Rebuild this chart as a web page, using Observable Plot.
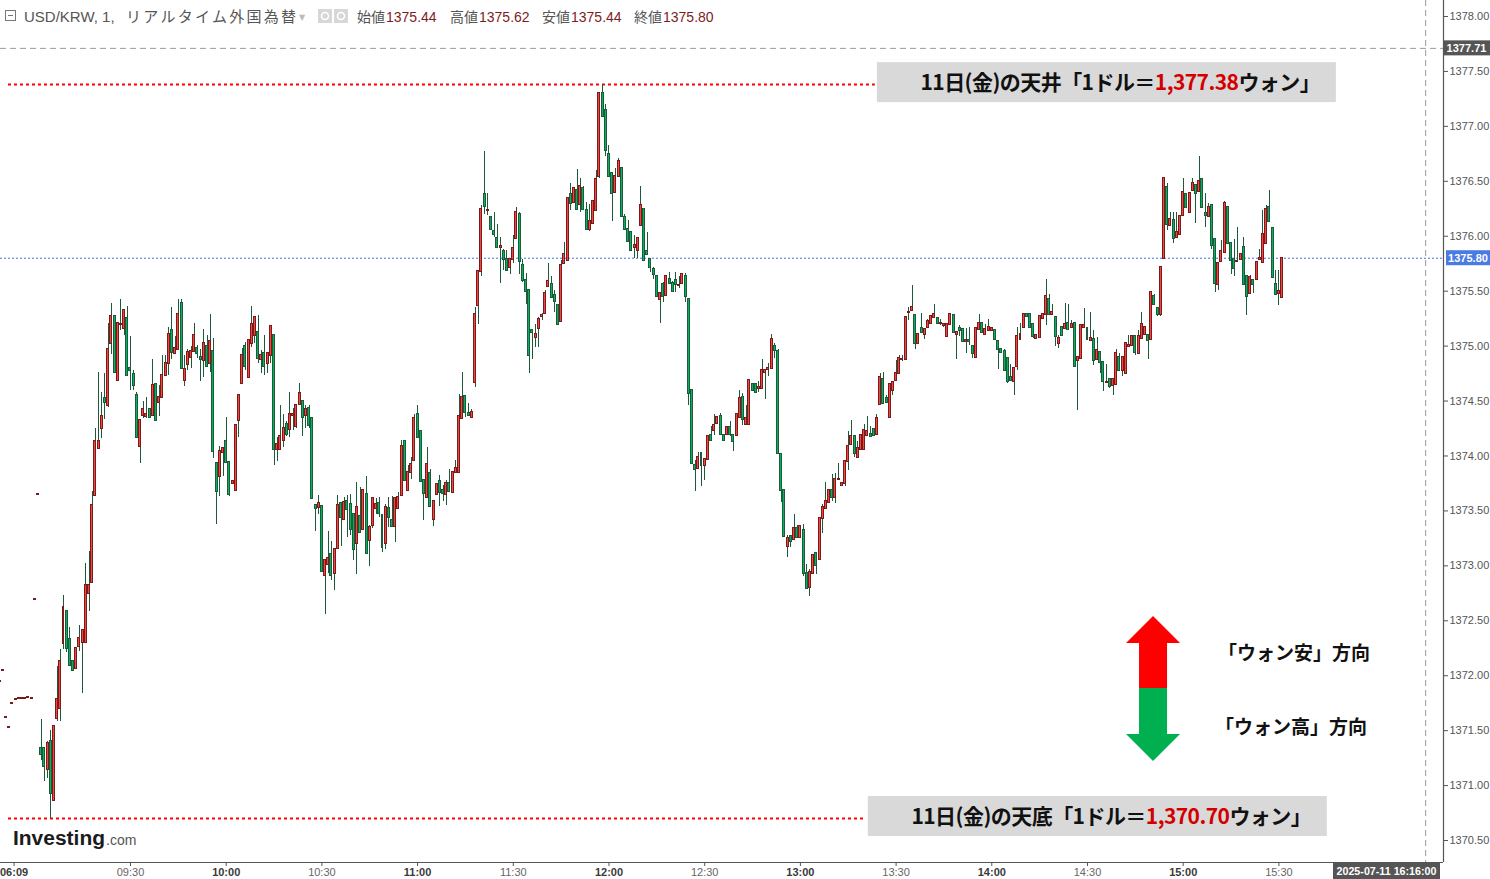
<!DOCTYPE html>
<html><head><meta charset="utf-8">
<script src="https://cdn.jsdelivr.net/npm/d3@7"></script>
<script src="https://cdn.jsdelivr.net/npm/@observablehq/plot@0.6"></script>
<style>
html,body{margin:0;padding:0;background:#fff;}
#chart{position:relative;width:1490px;height:879px;overflow:hidden;}
</style></head><body><div id="chart"></div>
<script>
// ---------- data ----------
const day = "2025-07-11";
const firstBar = "09:02"; // one bar per minute from here
const open = [
1371.34,1371.34,1371.15,1371.40,1370.86,1371.61,1371.70,1372.29,1372.58,1372.33,
1372.13,1372.07,1372.27,1372.30,1372.30,1372.75,1372.85,1373.64,1374.07,1374.25,
1374.52,1374.46,1375.02,1375.27,1374.69,1375.20,1375.16,1375.25,1374.80,1374.74,
1374.55,1374.09,1374.37,1374.36,1374.42,1374.37,1374.65,1374.49,1374.53,1374.73,
1374.84,1375.14,1374.93,1374.97,1375.39,1374.69,1374.83,1374.90,1374.95,1374.98,
1374.90,1374.87,1375.00,1374.84,1374.95,1373.93,1373.81,1374.03,1374.13,1373.94,
1373.75,1373.69,1374.32,1374.66,1375.00,1374.71,1375.02,1375.10,1375.12,1374.88,
1374.93,1374.84,1374.91,1375.10,1374.06,1374.06,1374.14,1374.29,1374.24,1374.37,
1374.27,1374.47,1374.50,1374.37,1374.43,1374.34,1373.55,1373.53,1373.54,1372.91,
1373.01,1373.10,1372.93,1373.16,1373.57,1373.42,1373.59,1373.56,1373.47,1373.20,
1373.45,1373.33,1373.65,1373.23,1373.37,1373.52,1373.57,1373.46,1373.20,1373.52,
1373.41,1373.36,1373.52,1373.64,1374.13,1373.69,1373.85,1373.96,1374.38,1374.22,
1373.78,1373.62,1373.84,1373.42,1373.65,1373.77,1373.69,1373.65,1373.75,1373.67,
1373.85,1373.85,1374.34,1374.54,1374.39,1374.35,1374.67,1375.37,1375.68,1376.38,
1376.23,1376.17,1376.04,1375.98,1375.90,1375.86,1375.79,1375.72,1375.79,1375.98,
1376.20,1375.73,1375.60,1375.51,1375.14,1375.08,1375.16,1375.27,1375.30,1375.54,
1375.56,1375.46,1375.37,1375.22,1375.75,1375.78,1376.38,1376.31,1376.42,1376.29,
1376.43,1376.23,1376.06,1376.12,1376.23,1376.54,1377.30,1377.14,1376.74,1376.57,
1376.40,1376.54,1376.62,1376.17,1376.06,1376.03,1375.90,1375.87,1376.10,1376.24,
1375.86,1375.79,1375.70,1375.63,1375.42,1375.56,1375.46,1375.61,1375.57,1375.60,
1375.55,1375.57,1375.63,1375.42,1374.60,1373.91,1373.89,1374.02,1373.91,1373.97,
1374.19,1374.23,1374.30,1374.36,1374.19,1374.20,1374.26,1374.19,1374.19,1374.35,
1374.53,1374.29,1374.29,1374.65,1374.65,1374.61,1374.61,1374.76,1374.79,1374.80,
1375.00,1374.95,1374.01,1373.69,1373.18,1373.27,1373.24,1373.34,1373.26,1373.32,
1372.93,1372.80,1372.93,1373.11,1373.06,1373.43,1373.52,1373.58,1373.69,1373.62,
1373.79,1373.73,1373.75,1373.95,1374.10,1374.18,1373.99,1374.06,1374.06,1374.19,
1374.20,1374.24,1374.20,1374.47,1374.70,1374.52,1374.35,1374.60,1374.69,1374.75,
1374.88,1374.88,1375.31,1375.32,1375.28,1375.02,1375.16,1375.11,1375.17,1375.21,
1375.26,1375.25,1375.21,1375.19,1375.09,1375.20,1375.28,1375.11,1375.16,1375.15,
1375.04,1375.05,1375.00,1374.90,1375.15,1375.21,1375.11,1375.14,1375.14,1375.14,
1375.04,1374.97,1374.95,1374.89,1374.71,1374.68,1374.81,1375.06,1375.17,1375.29,
1375.29,1375.20,1375.07,1375.08,1375.25,1375.29,1375.42,1375.29,1375.26,1375.02,
1375.17,1375.16,1375.21,1375.17,1375.21,1374.87,1374.89,1375.17,1375.16,1375.05,
1375.06,1374.88,1374.94,1374.85,1374.67,1374.70,1374.64,1374.65,1374.90,1374.78,
1374.75,1375.00,1375.01,1375.09,1374.93,1375.07,1375.11,1375.10,1375.06,1375.45,
1375.34,1375.29,1375.80,1376.44,1376.10,1376.14,1375.99,1376.02,1376.19,1376.38,
1376.22,1376.42,1376.46,1376.41,1376.52,1376.21,1376.18,1376.28,1375.97,1375.56,
1375.77,1375.85,1376.26,1375.93,1375.79,1375.77,1375.79,1375.90,1375.63,1375.48,
1375.60,1375.61,1375.79,1375.76,1375.93,1376.26,1376.07,1375.56,1375.48,1375.44];
const high = [
1371.60,1371.34,1371.40,1371.50,1371.54,1372.08,1372.24,1372.73,1372.58,1372.44,
1372.13,1372.25,1372.46,1372.41,1373.02,1373.13,1373.68,1374.25,1374.76,1374.58,
1374.75,1375.21,1375.39,1375.27,1375.21,1375.42,1375.33,1375.36,1375.09,1374.78,
1374.58,1374.32,1374.50,1374.53,1374.43,1374.88,1374.65,1374.64,1374.91,1374.91,
1375.17,1375.35,1375.09,1375.42,1375.42,1374.91,1374.97,1375.00,1375.21,1375.01,
1374.97,1375.15,1375.10,1375.29,1375.07,1373.93,1374.09,1374.08,1374.35,1373.94,
1373.77,1374.28,1374.55,1374.98,1375.03,1375.05,1375.36,1375.26,1375.28,1374.96,
1375.10,1374.93,1375.18,1375.10,1374.17,1374.46,1374.38,1374.31,1374.58,1374.43,
1374.47,1374.66,1374.50,1374.46,1374.46,1374.34,1373.55,1373.64,1373.54,1373.05,
1373.31,1373.22,1373.15,1373.64,1373.57,1373.62,1373.64,1373.65,1373.47,1373.76,
1373.71,1373.69,1373.81,1373.37,1373.62,1373.61,1373.62,1373.46,1373.56,1373.62,
1373.63,1373.62,1373.67,1374.14,1374.14,1373.91,1373.99,1374.38,1374.46,1374.22,
1373.78,1374.08,1373.88,1373.59,1373.74,1373.82,1373.73,1373.78,1373.88,1373.85,
1373.96,1374.56,1374.76,1374.54,1374.48,1374.42,1375.35,1375.68,1376.28,1376.77,
1376.39,1376.17,1376.22,1376.11,1375.99,1375.88,1375.87,1375.79,1376.01,1376.26,
1376.22,1375.79,1375.66,1375.51,1375.14,1375.20,1375.26,1375.30,1375.51,1375.75,
1375.63,1375.51,1375.37,1375.78,1375.94,1376.35,1376.48,1376.43,1376.61,1376.53,
1376.45,1376.31,1376.29,1376.32,1376.60,1377.30,1377.38,1377.20,1376.83,1376.57,
1376.62,1376.71,1376.62,1376.20,1376.14,1376.03,1376.01,1375.98,1376.45,1376.24,
1376.03,1375.79,1375.72,1375.63,1375.48,1375.58,1375.64,1375.67,1375.59,1375.67,
1375.63,1375.65,1375.66,1375.42,1374.60,1373.96,1374.03,1374.02,1373.97,1374.18,
1374.27,1374.38,1374.35,1374.39,1374.19,1374.26,1374.31,1374.19,1374.38,1374.60,
1374.57,1374.46,1374.69,1374.65,1374.65,1374.68,1374.88,1374.78,1374.84,1375.11,
1375.02,1374.97,1374.01,1373.69,1373.28,1373.28,1373.47,1373.37,1373.37,1373.38,
1373.01,1372.97,1373.10,1373.11,1373.43,1373.56,1373.76,1373.69,1373.83,1373.84,
1373.93,1373.75,1373.95,1374.22,1374.32,1374.18,1374.13,1374.19,1374.29,1374.36,
1374.27,1374.24,1374.38,1374.75,1374.76,1374.55,1374.65,1374.67,1374.87,1374.91,
1374.91,1375.26,1375.35,1375.55,1375.28,1375.11,1375.30,1375.15,1375.24,1375.27,
1375.38,1375.26,1375.24,1375.20,1375.20,1375.29,1375.29,1375.12,1375.19,1375.16,
1375.16,1375.17,1375.00,1375.16,1375.29,1375.21,1375.20,1375.24,1375.16,1375.14,
1375.04,1374.97,1374.97,1374.89,1374.83,1374.80,1375.17,1375.21,1375.30,1375.30,
1375.29,1375.20,1375.10,1375.27,1375.29,1375.61,1375.47,1375.38,1375.26,1375.10,
1375.17,1375.39,1375.38,1375.23,1375.21,1374.90,1375.20,1375.34,1375.16,1375.31,
1375.14,1375.08,1374.94,1374.85,1374.83,1374.70,1374.70,1374.97,1374.93,1374.90,
1375.02,1375.10,1375.09,1375.09,1375.14,1375.31,1375.17,1375.10,1375.49,1375.47,
1375.34,1375.72,1376.53,1376.48,1376.22,1376.22,1376.22,1376.18,1376.53,1376.38,
1376.39,1376.53,1376.46,1376.73,1376.52,1376.39,1376.30,1376.29,1375.97,1375.75,
1375.96,1376.32,1376.26,1375.93,1375.97,1376.08,1375.84,1375.99,1375.63,1375.64,
1375.60,1375.76,1375.88,1376.23,1376.28,1376.42,1376.07,1375.69,1375.69,1375.80];
const low = [
1371.23,1371.04,1371.06,1370.70,1370.86,1371.58,1371.58,1372.24,1372.21,1372.08,
1372.05,1372.07,1372.22,1371.84,1372.30,1372.58,1372.85,1373.64,1374.06,1374.16,
1374.33,1374.44,1374.92,1374.76,1374.69,1375.14,1375.10,1374.73,1374.60,1374.60,
1374.17,1373.93,1374.34,1374.34,1374.34,1374.36,1374.32,1374.36,1374.53,1374.72,
1374.73,1374.88,1374.93,1374.97,1374.80,1374.63,1374.78,1374.80,1374.95,1374.89,
1374.68,1374.71,1374.81,1374.76,1373.98,1373.38,1373.63,1373.81,1373.94,1373.63,
1373.75,1373.69,1374.17,1374.66,1374.78,1374.71,1374.99,1375.02,1374.84,1374.75,
1374.73,1374.75,1374.84,1373.91,1373.95,1374.06,1374.08,1374.18,1374.17,1374.23,
1374.25,1374.47,1374.18,1374.25,1374.25,1373.61,1373.31,1373.47,1372.95,1372.56,
1372.93,1372.87,1372.78,1373.16,1373.18,1373.42,1373.26,1373.28,1373.05,1372.92,
1373.30,1373.33,1373.11,1372.99,1373.34,1373.47,1373.44,1373.12,1373.15,1373.35,
1373.36,1373.21,1373.52,1373.64,1373.78,1373.68,1373.79,1373.96,1374.17,1373.77,
1373.41,1373.62,1373.54,1373.36,1373.65,1373.54,1373.59,1373.55,1373.68,1373.67,
1373.85,1373.85,1374.34,1374.35,1374.37,1374.35,1374.62,1375.20,1375.63,1376.20,
1376.19,1376.06,1375.99,1375.90,1375.57,1375.69,1375.69,1375.65,1375.75,1375.98,
1375.65,1375.58,1375.38,1374.75,1374.88,1374.99,1374.99,1375.23,1375.30,1375.54,
1375.44,1375.31,1375.19,1375.22,1375.75,1375.78,1376.23,1376.31,1376.24,1376.22,
1376.24,1376.06,1376.04,1376.12,1376.23,1376.53,1377.09,1376.73,1376.54,1376.13,
1376.40,1376.54,1376.18,1376.06,1375.95,1375.87,1375.80,1375.80,1376.10,1375.77,
1375.83,1375.67,1375.61,1375.45,1375.21,1375.40,1375.46,1375.57,1375.50,1375.49,
1375.52,1375.57,1375.40,1374.46,1373.93,1373.68,1373.89,1373.72,1373.78,1373.97,
1374.14,1374.19,1374.30,1374.20,1374.14,1374.20,1374.18,1374.04,1374.19,1374.35,
1374.28,1374.29,1374.29,1374.60,1374.58,1374.58,1374.61,1374.51,1374.72,1374.80,
1374.89,1374.02,1373.58,1373.27,1373.08,1373.17,1373.24,1373.26,1373.26,1372.90,
1372.79,1372.72,1372.93,1372.92,1373.06,1373.29,1373.52,1373.58,1373.59,1373.57,
1373.79,1373.73,1373.72,1373.87,1374.10,1373.99,1373.99,1374.06,1374.06,1374.19,
1374.18,1374.19,1374.20,1374.47,1374.48,1374.49,1374.35,1374.55,1374.69,1374.75,
1374.86,1374.88,1375.23,1375.32,1374.97,1375.02,1375.12,1375.06,1375.17,1375.21,
1375.26,1375.20,1375.19,1375.17,1375.09,1375.20,1375.12,1374.88,1375.09,1375.04,
1374.93,1375.01,1374.89,1374.90,1375.15,1375.12,1375.11,1375.14,1375.14,1375.06,
1374.79,1374.94,1374.78,1374.66,1374.69,1374.55,1374.78,1375.06,1375.17,1375.27,
1375.16,1375.07,1375.07,1375.08,1375.25,1375.19,1375.29,1375.29,1375.00,1374.98,
1375.10,1375.16,1375.15,1375.17,1374.81,1374.41,1374.89,1375.17,1375.06,1375.05,
1374.82,1374.88,1374.75,1374.59,1374.67,1374.61,1374.55,1374.65,1374.78,1374.72,
1374.75,1375.00,1375.01,1374.91,1374.93,1375.07,1375.11,1374.88,1375.06,1375.38,
1375.27,1375.27,1375.80,1376.05,1376.10,1375.93,1375.99,1376.02,1376.19,1376.26,
1376.22,1376.42,1376.12,1376.41,1376.26,1376.08,1376.18,1375.88,1375.49,1375.51,
1375.77,1375.85,1375.93,1375.65,1375.63,1375.77,1375.79,1375.56,1375.28,1375.48,
1375.48,1375.61,1375.79,1375.76,1375.93,1376.13,1375.62,1375.47,1375.37,1375.44];
const close = [
1371.28,1371.17,1371.38,1370.93,1371.54,1371.78,1372.13,1372.62,1372.25,1372.09,
1372.05,1372.25,1372.34,1372.41,1372.82,1372.82,1373.55,1374.13,1374.13,1374.36,
1374.49,1374.97,1375.27,1374.76,1375.21,1375.20,1375.32,1374.73,1374.78,1374.64,
1374.17,1374.32,1374.42,1374.38,1374.35,1374.64,1374.32,1374.53,1374.73,1374.84,
1375.11,1374.94,1374.98,1375.29,1374.80,1374.79,1374.94,1374.95,1375.10,1374.93,
1374.88,1375.02,1374.81,1375.04,1374.04,1373.68,1374.04,1374.07,1373.94,1373.65,
1373.77,1374.28,1374.55,1374.91,1374.81,1375.05,1375.20,1375.26,1374.89,1374.91,
1374.81,1374.93,1375.18,1374.06,1374.10,1374.18,1374.25,1374.20,1374.38,1374.38,
1374.46,1374.57,1374.35,1374.42,1374.28,1373.61,1373.52,1373.57,1372.95,1373.05,
1373.07,1372.91,1373.15,1373.55,1373.44,1373.58,1373.51,1373.33,1373.15,1373.53,
1373.30,1373.69,1373.11,1373.35,1373.61,1373.56,1373.48,1373.17,1373.53,1373.44,
1373.36,1373.61,1373.62,1374.09,1373.78,1373.85,1373.92,1374.34,1374.17,1373.77,
1373.66,1373.92,1373.54,1373.59,1373.74,1373.67,1373.66,1373.75,1373.68,1373.85,
1373.89,1374.36,1374.53,1374.40,1374.37,1374.40,1375.29,1375.68,1376.24,1376.27,
1376.23,1376.06,1376.02,1375.90,1375.91,1375.79,1375.69,1375.79,1375.89,1376.22,
1375.77,1375.60,1375.50,1374.91,1375.12,1375.11,1375.24,1375.28,1375.48,1375.59,
1375.44,1375.41,1375.20,1375.73,1375.83,1376.34,1376.30,1376.43,1376.24,1376.45,
1376.24,1376.06,1376.13,1376.32,1376.52,1377.30,1377.09,1376.78,1376.54,1376.39,
1376.54,1376.68,1376.18,1376.06,1375.95,1375.87,1375.92,1375.98,1376.28,1375.78,
1375.83,1375.72,1375.65,1375.45,1375.48,1375.45,1375.63,1375.57,1375.50,1375.56,
1375.55,1375.65,1375.45,1374.57,1373.93,1373.88,1373.99,1373.91,1373.97,1374.18,
1374.14,1374.28,1374.35,1374.20,1374.14,1374.26,1374.20,1374.13,1374.38,1374.52,
1374.33,1374.34,1374.69,1374.60,1374.58,1374.62,1374.78,1374.78,1374.80,1375.06,
1374.96,1374.02,1373.69,1373.27,1373.25,1373.22,1373.34,1373.26,1373.36,1372.93,
1372.79,1372.94,1373.09,1373.00,1373.43,1373.53,1373.59,1373.69,1373.62,1373.79,
1373.79,1373.75,1373.95,1374.09,1374.18,1374.02,1374.07,1374.19,1374.23,1374.22,
1374.18,1374.19,1374.34,1374.71,1374.48,1374.49,1374.65,1374.67,1374.75,1374.89,
1374.88,1375.26,1375.31,1375.35,1375.02,1375.11,1375.12,1375.15,1375.22,1375.27,
1375.29,1375.21,1375.21,1375.20,1375.20,1375.29,1375.12,1375.12,1375.14,1375.04,
1375.05,1375.04,1374.93,1375.16,1375.21,1375.12,1375.15,1375.17,1375.16,1375.06,
1374.97,1374.94,1374.78,1374.68,1374.69,1374.80,1375.09,1375.11,1375.29,1375.27,
1375.17,1375.09,1375.10,1375.27,1375.29,1375.45,1375.29,1375.31,1375.09,1375.07,
1375.10,1375.20,1375.15,1375.20,1374.81,1374.90,1375.19,1375.19,1375.06,1375.07,
1374.87,1374.96,1374.85,1374.68,1374.67,1374.63,1374.70,1374.93,1374.78,1374.90,
1375.02,1375.01,1375.09,1374.94,1375.09,1375.20,1375.17,1375.05,1375.49,1375.38,
1375.29,1375.72,1376.53,1376.11,1376.15,1375.98,1376.03,1376.18,1376.40,1376.26,
1376.39,1376.48,1376.39,1376.50,1376.26,1376.19,1376.26,1375.92,1375.57,1375.75,
1375.86,1376.30,1375.93,1375.78,1375.71,1375.77,1375.83,1375.56,1375.45,1375.62,
1375.56,1375.76,1375.80,1376.02,1376.24,1376.13,1375.62,1375.47,1375.50,1375.80];
// sparse pre-open ticks
const preTimes = ["08:49","08:50","08:51","08:52","08:53","08:54","08:55","08:56","08:57","08:58","08:59","09:00","09:01"];
const prePrice = [1371.95,1372.05,1371.62,1371.53,1371.75,1371.78,1371.79,1371.79,1371.79,1371.80,1371.79,1372.69,1373.65];

const yTicks = [1370.5,1371,1371.5,1372,1372.5,1373,1373.5,1374,1374.5,1375,1375.5,1376,1376.5,1377,1377.5,1378];
const xTickTimes  = ["08:53:30","09:30","10:00","10:30","11:00","11:30","12:00","12:30","13:00","13:30","14:00","14:30","15:00","15:30"];
const xTickLabels = ["06:09","09:30","10:00","10:30","11:00","11:30","12:00","12:30","13:00","13:30","14:00","14:30","15:00","15:30"];
const xTickBold   = [true,false,true,false,true,false,true,false,true,false,true,false,true,false];
const xDomainTimes = ["08:49:15","16:21:36"];
const yDomain = [1370.30, 1378.1456];

const dayHigh = 1377.38, dayLow = 1370.70;
const lastPrice = 1375.80;
const crossPrice = 1377.71, crossTime = "16:16", crossStamp = "2025-07-11 16:16:00";
const annotStart = "08:51:45", topLineEnd = "13:23:30", bottomLineEnd = "13:20:40";
const topText = ["11日(金)の天井「1ドル＝", "1,377.38", "ウォン」"];
const bottomText = ["11日(金)の天底「1ドル＝", "1,370.70", "ウォン」"];
const arrowAnchor = {time: "14:50:42", price: 1371.884};
const arrowTexts = ["「ウォン安」方向", "「ウォン高」方向"];
const legendSymbol = "USD/KRW, 1, ";
const legendSource = "リアルタイム外国為替";
const legendLabels = ["始値","高値","安値","終値"];
const legendValues = ["1375.44","1375.62","1375.44","1375.80"];

// ---------- build ----------
const at = s => new Date(`${day}T${s.length === 5 ? s + ":00" : s}Z`);
const t0 = at(firstBar);
const bars = open.map((o, i) => {
  const t = d3.utcMinute.offset(t0, i);
  return {t, t1: d3.utcSecond.offset(t, -30), t2: d3.utcSecond.offset(t, 30), o, h: high[i], l: low[i], c: close[i]};
});
preTimes.forEach((s, i) => {
  const t = at(s);
  bars.push({t, t1: d3.utcSecond.offset(t, -30), t2: d3.utcSecond.offset(t, 30), o: prePrice[i], h: prePrice[i], l: prePrice[i], c: prePrice[i]});
});
const up = bars.filter(d => d.c >= d.o);
const down = bars.filter(d => d.c < d.o);
const xTicks = xTickTimes.map((s, i) => ({t: at(s), label: xTickLabels[i], bold: xTickBold[i]}));
const crossT = at(crossTime);

const W = 1490, H = 879, MR = 47, MB = 17;
const AX = "'Liberation Sans', Arial, sans-serif";
const JP = "'Noto Sans CJK JP', 'Noto Sans', sans-serif";

const candleBody = {x1: "t1", x2: "t2", y1: "o", y2: "c", insetLeft: 0.6, insetRight: 0.6, insetTop: -0.5, insetBottom: -0.5, strokeWidth: 1, shapeRendering: "crispEdges"};

const chart = Plot.plot({
  width: W, height: H,
  marginLeft: 0, marginRight: MR, marginTop: 0, marginBottom: MB,
  x: {type: "utc", domain: xDomainTimes.map(at)},
  y: {type: "linear", domain: yDomain},
  style: {fontFamily: AX, fontSize: "11px", background: "#fff", color: "#555"},
  marks: [
    Plot.ruleY([{y: lastPrice}], {y: "y", stroke: "#3f6fdc", strokeDasharray: "2,2", strokeWidth: 1}),
    Plot.ruleY([{y: crossPrice}], {y: "y", stroke: "#9a9a9a", strokeDasharray: "6,4", strokeWidth: 1}),
    Plot.ruleX([{x: crossT}], {x: "x", stroke: "#9a9a9a", strokeDasharray: "6,4", strokeWidth: 1}),
    Plot.ruleY([{y: dayHigh, x1: at(annotStart), x2: at(topLineEnd)}], {y: "y", x1: "x1", x2: "x2", stroke: "#ff0000", strokeWidth: 2, strokeDasharray: "3,3"}),
    Plot.ruleY([{y: dayLow, x1: at(annotStart), x2: at(bottomLineEnd)}], {y: "y", x1: "x1", x2: "x2", stroke: "#ff0000", strokeWidth: 2, strokeDasharray: "3,3"}),
    Plot.ruleX(bars.filter(d => d.h > d.l), {x: "t", y1: "l", y2: "h", stroke: "#1d5a3b", strokeWidth: 1, shapeRendering: "crispEdges"}),
    Plot.rect(up, {...candleBody, fill: "#f4453f", stroke: "#7a1b1b"}),
    Plot.rect(down, {...candleBody, fill: "#02b45c", stroke: "#1d5a3b"}),
    Plot.ruleY([{y: yDomain[0]}], {y: "y", stroke: "#555", strokeWidth: 1.2}),
    Plot.ruleX([{x: at(xDomainTimes[1])}], {x: "x", stroke: "#555", strokeWidth: 1.2}),
    Plot.axisY({anchor: "right", ticks: yTicks, tickFormat: d => d.toFixed(2), tickSize: 4, tickPadding: 2, color: "#555", fontSize: 11, label: null}),
    Plot.axisX({ticks: [...xTicks.map(d => d.t), crossT], tickFormat: () => "", tickSize: 4, color: "#555", label: null}),
    Plot.text(xTicks.filter(d => d.bold), {x: "t", text: "label", frameAnchor: "bottom", dy: 13, fontWeight: "bold", fill: "#3a3a3a", fontSize: 11}),
    Plot.text(xTicks.filter(d => !d.bold), {x: "t", text: "label", frameAnchor: "bottom", dy: 13, fill: "#666", fontSize: 11})
  ]
});
document.getElementById("chart").appendChild(chart);

// ---------- overlays (positioned through the plot's scales) ----------
const svg = d3.select(chart);
const sx = v => chart.scale("x").apply(v);
const sy = v => chart.scale("y").apply(v);
const plotRight = W - MR, plotBottom = H - MB;
const txt = (g, x, y) => g.append("text").attr("x", x).attr("y", y).attr("text-anchor", "start");

function tag(x, yc, w, h, fill, label, textLen) {
  const g = svg.append("g");
  g.append("rect").attr("x", x).attr("y", yc - h / 2).attr("width", w).attr("height", h).attr("fill", fill);
  const t = g.append("text").attr("x", x + w / 2).attr("y", yc).attr("dy", "0.35em")
    .attr("text-anchor", "middle").attr("fill", "#fff").attr("font-family", AX)
    .attr("font-weight", "bold").attr("font-size", 11).text(label);
  if (textLen) t.attr("textLength", textLen).attr("lengthAdjust", "spacingAndGlyphs");
}
tag(plotRight, sy(crossPrice), W - plotRight, 15, "#555555", crossPrice.toFixed(2));
tag(plotRight + 3, sy(lastPrice), W - plotRight - 3, 15, "#4a7be3", lastPrice.toFixed(2));
tag(plotRight - 110, plotBottom + 9, 107, 16, "#555555", crossStamp, 100);

function annotBox(lineEnd, value, parts) {
  const x0 = sx(at(lineEnd)) + 2, yc = sy(value) - 2, w = 459, h = 40;
  const g = svg.append("g");
  g.append("rect").attr("x", x0).attr("y", yc - h / 2).attr("width", w).attr("height", h).attr("fill", "#d9d9d9");
  const t = g.append("text").attr("x", x0 + w / 2 + 14).attr("y", yc).attr("dy", "0.36em")
    .attr("text-anchor", "middle").attr("font-family", JP).attr("font-weight", 700).attr("font-size", 21)
    .attr("letter-spacing", "-0.55px");
  t.append("tspan").attr("fill", "#111").text(parts[0]);
  t.append("tspan").attr("fill", "#d20000").text(parts[1]);
  t.append("tspan").attr("fill", "#111").text(parts[2]);
}
annotBox(topLineEnd, dayHigh, topText);
annotBox(bottomLineEnd, dayLow, bottomText);

// double arrow
{
  const cx = sx(at(arrowAnchor.time)), cy = sy(arrowAnchor.price);
  const upPts = [[0,-72],[27,-45],[14,-45],[14,0],[-14,0],[-14,-45],[-27,-45]];
  const dnPts = [[14,0],[14,46],[27,46],[0,73],[-27,46],[-14,46],[-14,0]];
  const g = svg.append("g");
  g.append("polygon").attr("points", upPts.map(([a, b]) => `${cx + a},${cy + b}`).join(" ")).attr("fill", "#ff0000");
  g.append("polygon").attr("points", dnPts.map(([a, b]) => `${cx + a},${cy + b}`).join(" ")).attr("fill", "#00b050");
  txt(g, cx + 65, cy - 35).attr("dy", "0.36em").attr("font-family", JP)
    .attr("font-weight", 700).attr("font-size", 19).attr("fill", "#111").text(arrowTexts[0]);
  txt(g, cx + 62, cy + 39).attr("dy", "0.36em").attr("font-family", JP)
    .attr("font-weight", 700).attr("font-size", 19).attr("fill", "#111").text(arrowTexts[1]);
}

// legend (top-left)
{
  const g = svg.append("g");
  g.append("rect").attr("x", 5.5).attr("y", 10.5).attr("width", 10).attr("height", 10).attr("fill", "none").attr("stroke", "#777");
  g.append("line").attr("x1", 8).attr("x2", 13).attr("y1", 15.5).attr("y2", 15.5).attr("stroke", "#777");
  txt(g, 24, 21.5).attr("font-family", AX).attr("font-size", 15).attr("fill", "#555").text(legendSymbol);
  txt(g, 126, 21.5).attr("font-family", JP).attr("font-size", 15).attr("fill", "#555")
    .attr("textLength", 170).attr("lengthAdjust", "spacing").text(legendSource);
  txt(g, 299, 20).attr("font-family", "DejaVu Sans").attr("font-size", 8).attr("fill", "#bbb").text("▼");
  [318, 334].forEach(x => {
    g.append("rect").attr("x", x).attr("y", 9).attr("width", 14).attr("height", 14).attr("fill", "#d7d7d7");
    g.append("circle").attr("cx", x + 7).attr("cy", 16).attr("r", 3.5).attr("fill", "none").attr("stroke", "#fff").attr("stroke-width", 1.5);
  });
  const lx = [357, 450, 542, 634], vx = [386, 479, 571, 663];
  legendLabels.forEach((s, i) => {
    txt(g, lx[i], 21.5).attr("font-family", JP).attr("font-size", 14).attr("fill", "#555").text(s);
    txt(g, vx[i], 21.5).attr("font-family", AX).attr("font-size", 14).attr("fill", "#7d1d1d").text(legendValues[i]);
  });
}

// Investing.com logo
{
  const g = svg.append("g");
  txt(g, 13, 845).attr("font-family", AX).attr("font-weight", "bold")
    .attr("font-size", 20).attr("fill", "#1b1b1b").attr("textLength", 92).attr("lengthAdjust", "spacingAndGlyphs").text("Investing");
  txt(g, 106, 845).attr("font-family", AX).attr("font-size", 14).attr("fill", "#555").text(".com");
}
</script>
</body></html>
